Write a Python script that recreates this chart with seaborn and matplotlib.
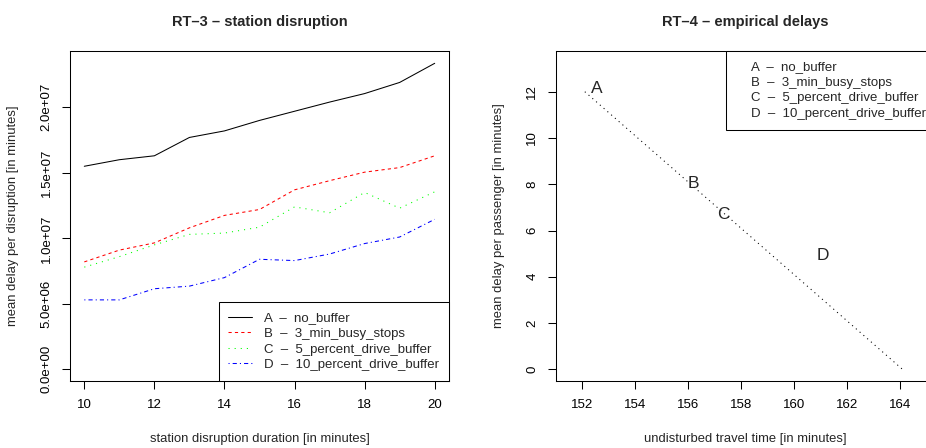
import matplotlib
matplotlib.use("Agg")
import matplotlib.pyplot as plt
from matplotlib.lines import Line2D
from matplotlib.ticker import FuncFormatter
import seaborn as sns
import pandas as pd

# ---------------- data ----------------
duration = [10, 11, 12, 13, 14, 15, 16, 17, 18, 19, 20]
delay_A = [15.5e6, 16.0e6, 16.3e6, 17.7e6, 18.2e6, 19.0e6, 19.7e6, 20.4e6, 21.05e6, 21.9e6, 23.36e6]
delay_B = [8.2e6, 9.1e6, 9.65e6, 10.8e6, 11.75e6, 12.2e6, 13.7e6, 14.4e6, 15.05e6, 15.4e6, 16.3e6]
delay_C = [7.8e6, 8.6e6, 9.5e6, 10.3e6, 10.4e6, 10.85e6, 12.4e6, 11.95e6, 13.5e6, 12.3e6, 13.55e6]
delay_D = [5.3e6, 5.3e6, 6.15e6, 6.35e6, 7.0e6, 8.4e6, 8.3e6, 8.8e6, 9.6e6, 10.1e6, 11.45e6]
series_labels = ["A  \u2013  no_buffer", "B  \u2013  3_min_busy_stops",
                 "C  \u2013  5_percent_drive_buffer", "D  \u2013  10_percent_drive_buffer"]

fit_x = [152.1, 164.1]
fit_y = [12.0, 0.0]
point_names = ["A", "B", "C", "D"]
point_x = [152.55, 156.2, 157.35, 161.1]
point_y = [12.15, 8.05, 6.7, 4.9]

left_yticks = [0, 5e6, 10e6, 15e6, 20e6]
left_xticks = [10, 12, 14, 16, 18, 20]
right_xticks = [152, 154, 156, 158, 160, 162, 164]
right_yticks = [0, 2, 4, 6, 8, 10, 12]

# ---------------- style ----------------
sns.set_theme(style="white")
plt.rcParams["font.family"] = ["Liberation Sans", "DejaVu Sans"]
plt.rcParams["lines.scale_dashes"] = False

W, H = 926, 448
fig = plt.figure(figsize=(W / 100, H / 100), dpi=100)
ax1 = fig.add_axes([70 / W, (H - 381) / H, 379 / W, 330 / H])
ax2 = fig.add_axes([555.7 / W, (H - 381) / H, 380 / W, 330 / H])

LW = 0.75
TICKFS = 9.5
LABFS = 9.4


def style_axes(ax):
    for s in ax.spines.values():
        s.set_visible(True)
        s.set_color("black")
        s.set_linewidth(LW)
    ax.tick_params(axis="both", direction="out", length=5.5, width=LW,
                   colors="black", labelsize=TICKFS, bottom=True, left=True)
    ax.tick_params(axis="x", pad=7.5)
    ax.tick_params(axis="y", pad=7, labelrotation=90)
    for lab in ax.get_yticklabels():
        lab.set_va("center")
    ax.grid(False)
    ax.set_facecolor("white")


# ---------------- left panel ----------------
df = pd.DataFrame({"duration": duration, "A": delay_A, "B": delay_B,
                   "C": delay_C, "D": delay_D})
styles = [
    ("A", "black", "-"),
    ("B", "#FF0000", (0, (2.3, 2.3))),
    ("C", "#00FF00", (0, (0.8, 3.6))),
    ("D", "#0000FF", (0, (0.8, 2.2, 3.0, 2.2))),
]
for (col, color, ls), lab in zip(styles, series_labels):
    sns.lineplot(data=df, x="duration", y=col, ax=ax1, color=color,
                 linewidth=LW, linestyle=ls, label=lab, errorbar=None)

ax1.set_xlim(9.592, 20.408)
ax1.set_ylim(-0.893e6, 24.3e6)
ax1.set_xticks(left_xticks)
ax1.set_yticks(left_yticks)
ax1.yaxis.set_major_formatter(FuncFormatter(lambda v, p: f"{v:.1e}"))
style_axes(ax1)
ax1.set_xlabel("station disruption duration [in minutes]", fontsize=LABFS, labelpad=15.5)
ax1.set_ylabel("mean delay per disruption [in minutes]", fontsize=LABFS, labelpad=15.5)
ax1.set_title("RT\u20133 \u2013 station disruption", fontsize=10.5,
              fontweight="bold", pad=18)
leg1 = ax1.legend(loc="lower right", bbox_to_anchor=(1, 0), borderaxespad=0,
                  frameon=True, fancybox=False, edgecolor="black", framealpha=1,
                  fontsize=9.5, handlelength=1.8, handletextpad=0.9,
                  labelspacing=0.25, borderpad=0.75)
leg1.get_frame().set_linewidth(LW)

# ---------------- right panel ----------------
sns.lineplot(x=fit_x, y=fit_y, ax=ax2, color="black", linewidth=LW,
             linestyle=(0, (0.8, 2.8)), errorbar=None)
for name, px, py in zip(point_names, point_x, point_y):
    ax2.text(px, py, name, ha="center", va="center", fontsize=12.5)
ax2.set_xlim(151.0, 151.0 + 380 / 26.47)
ax2.set_ylim(-0.506, 13.76)
ax2.set_xticks(right_xticks)
ax2.set_yticks(right_yticks)
style_axes(ax2)
ax2.set_xlabel("undisturbed travel time [in minutes]", fontsize=LABFS, labelpad=15.5)
ax2.set_ylabel("mean delay per passenger [in minutes]", fontsize=LABFS, labelpad=15.5)
ax2.set_title("RT\u20134 \u2013 empirical delays", fontsize=10.5,
              fontweight="bold", pad=18)
handles = [Line2D([], [], linestyle="none") for _ in series_labels]
leg2 = ax2.legend(handles, series_labels, loc="upper right", bbox_to_anchor=(1, 1),
                  borderaxespad=0, frameon=True, fancybox=False,
                  edgecolor="black", framealpha=1, fontsize=9.5,
                  handlelength=0.6, handletextpad=0.5, labelspacing=0.25,
                  borderpad=0.75)
leg2.get_frame().set_linewidth(LW)

fig.savefig("out.png", dpi=100, facecolor="white")
